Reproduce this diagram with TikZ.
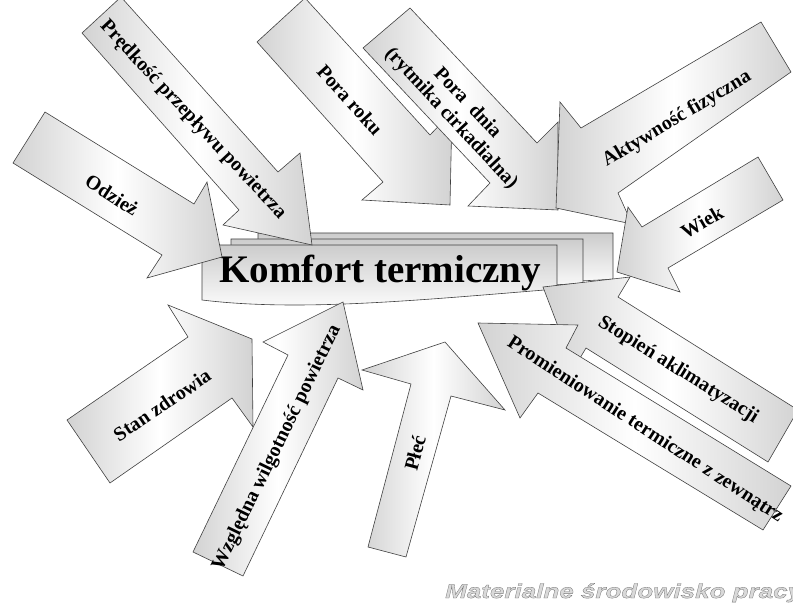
\documentclass[tikz,border=0pt]{standalone}
\usepackage{fontspec}
\setmainfont{Liberation Serif}
\newfontfamily\footfont{Liberation Sans}[FakeStretch=1.3, FakeBold=1.6]
\usepackage{tikz}
\tikzset{
	every factor/.style={
		draw=black!75,
		line width=0.6pt,
		left color=gray!35,
		right color=gray!35,
		middle color=white
	},
	every layer/.style={
		draw=black!75,
		line width=0.6pt,
		top color=gray!40,
		bottom color=white
	},
	factor label/.style={
		align=center,
		inner sep=0pt,
		font=\bfseries\fontsize{20}{22}\selectfont
	},
}

\begin{document}
\begin{tikzpicture}[x=1pt, y=-1pt]

\useasboundingbox (0,0) rectangle (793,604);
\clip (0,0) rectangle (793,604);

\path [every layer] (258,233) -- (613,233) -- (613,279) .. controls (500,288) and (380,270) .. (258,282) -- cycle;
\path [every layer] (231,239) -- (583,239) -- (583,283) .. controls (480,292) and (350,275) .. (231,290) -- cycle;
\path [every layer] (202,245) -- (557,245) -- (557,289) .. controls (420,300) and (300,312) .. (202,300) -- cycle;
\node [font=\bfseries\fontsize{39}{44}\selectfont, anchor=base, inner sep=0pt] (komfort) at (380,283) {Komfort termiczny};

\path [every factor] (13,163) -- (45,112) -- (194,204) -- (207,182) -- (222,257) -- (147,278) -- (162,255) -- cycle;
\path [every factor] (82,33) -- (121,-3) -- (278,172) -- (300,153) -- (312,245) -- (223,225) -- (239,210) -- cycle;
\path [every factor] (257,42) -- (305,-2) -- (430,135) -- (452,112) -- (450,205) -- (362,200) -- (383,182) -- cycle;
\path [every factor] (363,48) -- (410,8) -- (537,143) -- (558,122) -- (558,210) -- (468,206) -- (490,183) -- cycle;
\path [every factor] (791,72) -- (761,22) -- (581,128) -- (560,102) -- (556,208) -- (632,224) -- (618,193) -- cycle;
\path [every factor] (758,157) -- (642,227) -- (628,207) -- (617,272) -- (680,292) -- (668,268) -- (783,200) -- cycle;
\path [every factor] (768,462) -- (798,410) -- (618,297) -- (630,277) -- (543,287) -- (574,368) -- (586,348) -- cycle;
\path [every factor] (763,530) -- (791,486) -- (566,348) -- (578,325) -- (478,323) -- (520,418) -- (538,393) -- cycle;
\path [every factor] (110,483) -- (67,420) -- (188,337) -- (168,305) -- (252,339) -- (253,427) -- (232,398) -- cycle;
\path [every factor] (193,552) -- (288,355) -- (263,342) -- (343,302) -- (363,390) -- (338,378) -- (243,576) -- cycle;
\path [every factor] (368,547) -- (411,384) -- (362,370) -- (445,342) -- (505,410) -- (451,396) -- (406,557) -- cycle;

\foreach \n/\x/\y/\r/\t in {
	odziez/112/195/-33/Odzież,
	predkosc/193/120/-47/Prędkość przepływu powietrza,
	pora-roku/350/100/-48/Pora roku,
	pora-dnia/459/111/-47/{Pora~~dnia\\(rytmika cirkadialna)},
	aktywnosc/677/119/31/Aktywność fizyczna,
	wiek/702/222/30/Wiek,
	stopien/678/370/-32/Stopień aklimatyzacji,
	promieniowanie/645/430/-33/Promieniowanie termiczne z zewnątrz,
	stan-zdrowia/162/405/34/Stan zdrowia,
	wilgotnosc/277/448/64/Względna wilgotność powietrza,
	plec/415/453/75/Płeć}
	\node [factor label, rotate=\r] (\n) at (\x,\y) {\t};

\node [anchor=base west, inner sep=0pt, text=gray!30, font=\footfont\bfseries\itshape\fontsize{20}{24}\selectfont] (zrodlo) at (445,598) {\special{pdf:literal direct 0.45 G}Materialne środowisko pracy};

\end{tikzpicture}
\end{document}
